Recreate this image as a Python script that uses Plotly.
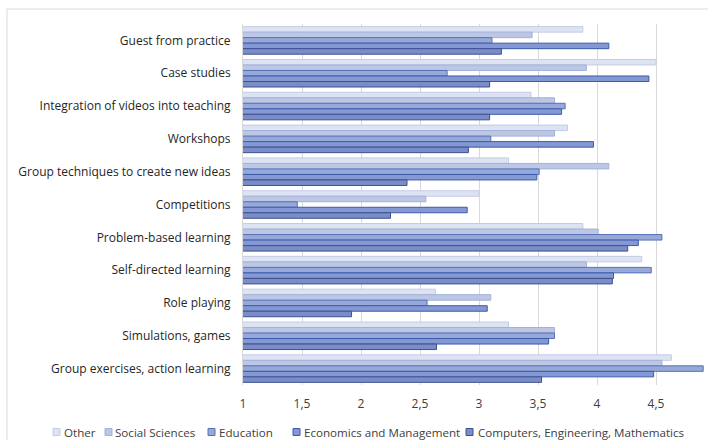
import plotly.graph_objects as go

categories = [
    "Guest from practice",
    "Case studies",
    "Integration of videos into teaching",
    "Workshops",
    "Group techniques to create new ideas",
    "Competitions",
    "Problem-based learning",
    "Self-directed learning",
    "Role playing",
    "Simulations, games",
    "Group exercises, action learning",
]

other = [3.88, 4.50, 3.44, 3.75, 3.25, 3.00, 3.88, 4.38, 2.63, 3.25, 4.63]
social_sciences = [3.45, 3.91, 3.64, 3.64, 4.10, 2.55, 4.01, 3.91, 3.10, 3.64, 4.55]
education = [3.11, 2.73, 3.73, 3.10, 3.51, 1.46, 4.55, 4.46, 2.56, 3.64, 4.90]
economics = [4.10, 4.44, 3.70, 3.97, 3.49, 2.90, 4.35, 4.14, 3.07, 3.59, 4.48]
computers = [3.19, 3.09, 3.09, 2.91, 2.39, 2.25, 4.26, 4.13, 1.92, 2.64, 3.53]

series_names = ["Other", "Social Sciences", "Education", "Economics and Management",
                "Computers, Engineering, Mathematics"]
series_values = [other, social_sciences, education, economics, computers]
fill_colors = ["#dde3f2", "#bcc7e4", "#97a9d9", "#8499d3", "#7a8dc6"]
line_colors = ["#c3cce6", "#a3b1da", "#5670b8", "#3d5aab", "#3e5190"]

x_ticks = [1, 1.5, 2, 2.5, 3, 3.5, 4, 4.5]

L, R, T, B = 243, 3, 24, 55
W, H = 708, 440
PW, PH = W - L - R, H - T - B

def px_x(px):
    return (px - L) / PW

def px_y(py):
    return 1 - (py - T) / PH

fig = go.Figure()
for name, vals, fc, lc in zip(series_names, series_values, fill_colors, line_colors):
    fig.add_trace(go.Bar(
        y=categories, x=vals, name=name, orientation="h",
        marker=dict(color=fc, line=dict(color=lc, width=1)),
        base=0,
    ))

FONT = "Open Sans"
fig.update_layout(
    width=W, height=H,
    margin=dict(l=L, r=R, t=T, b=B),
    barmode="group", bargap=0.16, bargroupgap=0,
    plot_bgcolor="white", paper_bgcolor="white",
    separators=", ",
    showlegend=False,
    font=dict(family=FONT, size=12, color="#404040"),
)
fig.update_xaxes(
    range=[1, 1 + PW / 118], tickvals=x_ticks,
    showgrid=True, gridcolor="#d9d9d9", gridwidth=1,
    zeroline=False, showline=False,
    ticks="", tickfont=dict(size=12, color="#404040"),
    ticklabelstandoff=10,
)
fig.update_yaxes(
    autorange="reversed", showgrid=False, zeroline=False,
    showline=True, linecolor="#d9d9d9", linewidth=1,
    ticks="", ticklabelstandoff=9,
    tickfont=dict(size=12, color="#262626"),
)

# chart frame
fig.add_shape(type="line", xref="paper", yref="paper",
              x0=px_x(7), x1=px_x(720), y0=px_y(9), y1=px_y(9),
              line=dict(color="#d9d9d9", width=1))
fig.add_shape(type="line", xref="paper", yref="paper",
              x0=px_x(7), x1=px_x(7), y0=px_y(9), y1=px_y(450),
              line=dict(color="#d9d9d9", width=1))

# legend (manual, one line)
leg_sq = [53, 105, 208, 293, 466]
leg_tx = [62, 113, 217, 302, 476]
ly = 432
for name, fc, lc, sx, tx in zip(series_names, fill_colors, line_colors, leg_sq, leg_tx):
    fig.add_shape(type="rect", xref="paper", yref="paper",
                  x0=px_x(sx), x1=px_x(sx + 7), y0=px_y(ly - 3.5), y1=px_y(ly + 3.5),
                  fillcolor=fc, line=dict(color=lc, width=1))
    fig.add_annotation(xref="paper", yref="paper", x=px_x(tx), y=px_y(ly),
                       xanchor="left", yanchor="middle", text=name, showarrow=False,
                       font=dict(family=FONT, size=11.6, color="#404040"))

fig.write_html(
    "out.html",
    config={"displayModeBar": False},
    post_script="document.body.style.margin='0px';document.body.style.overflow='hidden';",
)
